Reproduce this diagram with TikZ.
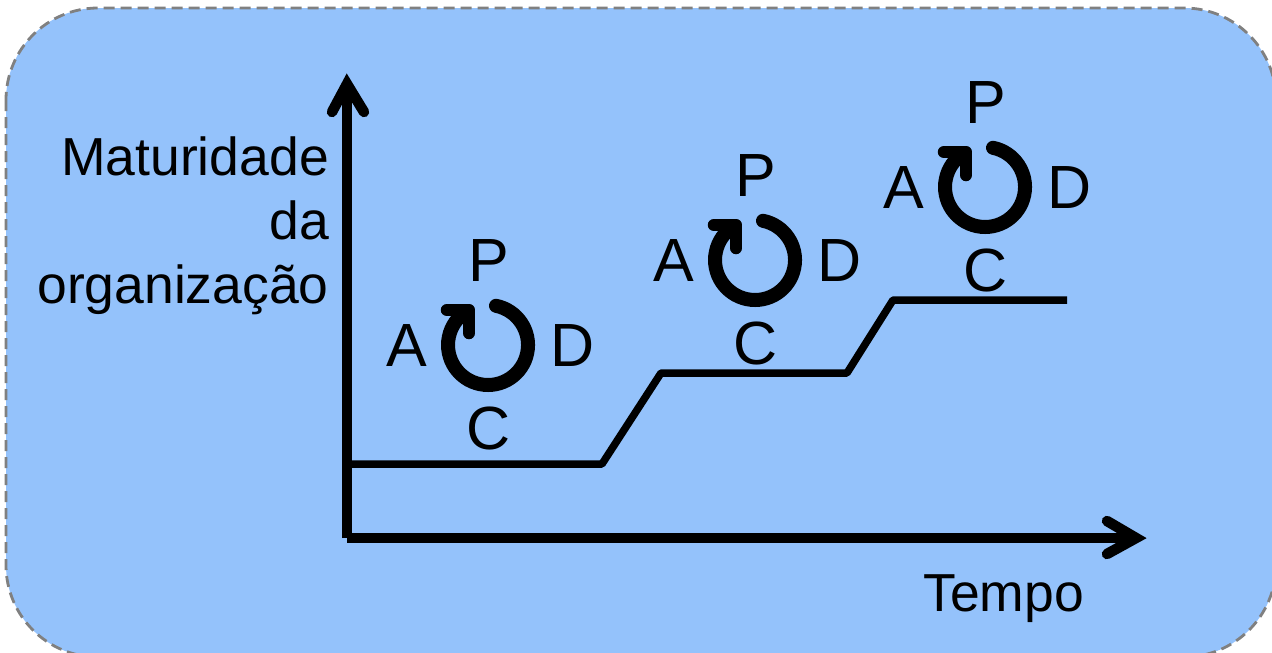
\documentclass[tikz,border=0pt]{standalone}
\usepackage{fontspec}
\setmainfont{Liberation Sans}
\usetikzlibrary{arrows.meta}
\definecolor{panelblue}{HTML}{94C2FB}
\definecolor{paneledge}{HTML}{808080}
\tikzset{
  x=1pt,y=-1pt,
  panel/.style={fill=panelblue,draw=paneledge,line width=2.8pt,dash pattern=on 11pt off 6pt,rounded corners=92pt},
  axisline/.style={line width=9.5pt,line join=miter},
  axishead/.style={line width=10.5pt,line cap=round,line join=miter},
  stepline/.style={line width=7.5pt,line join=round},
  lbl/.style={inner sep=0pt,font=\fontsize{61}{73}\selectfont,text=black},
  axislbl/.style={inner sep=0pt,font=\fontsize{53.5}{64}\selectfont,text=black,anchor=base east},
  cyclering/.style={line width=14pt,line cap=round},
  cyclehead/.style={line width=12.5pt,line cap=round,line join=round},
}
\newcommand{\pdcacycle}[2]{%
  \begin{scope}[shift={(#1)}]
    \draw[cyclering] (8,-39.2) arc[start angle=-78.5,end angle=238,radius=40];
    \draw[cyclehead] (-41,-35) -- (-19,-35) -- (-19,-12);
    \node[lbl] (p#2) at (1,-84) {P};
    \node[lbl] (a#2) at (-81,0.5) {A};
    \node[lbl] (d#2) at (85,0.5) {D};
    \node[lbl] (c#2) at (1,83) {C};
  \end{scope}}
\begin{document}
\begin{tikzpicture}
\useasboundingbox (0,0) rectangle (1272,653);
\path[panel] (6,8) rectangle (1276,657);
\coordinate (origin) at (347,538);
\coordinate (ytop) at (347,84);
\coordinate (xend) at (1136,538);
\coordinate (s0) at (347,464);
\coordinate (s1) at (602,464);
\coordinate (s2) at (661,373);
\coordinate (s3) at (847,373);
\coordinate (s4) at (893,300);
\coordinate (s5) at (1067,300);
\draw[axisline] (origin) -- (ytop);
\draw[axisline] (origin) -- (xend);
\draw[axishead] (332,112) -- (ytop) -- (364,112);
\draw[axishead] (1107,521) -- (xend) -- (1107,554);
\draw[stepline] (s0) -- (s1) -- (s2) -- (s3) -- (s4) -- (s5);
\pdcacycle{488,345}{1}
\pdcacycle{755,260}{2}
\pdcacycle{985,187}{3}
\node[axislbl] (ylabel1) at (329,175) {Maturidade};
\node[axislbl] (ylabel2) at (329,239) {da};
\node[axislbl] (ylabel3) at (329,303) {organização};
\node[axislbl] (xlabel) at (1084,611) {Tempo};
\end{tikzpicture}
\end{document}
